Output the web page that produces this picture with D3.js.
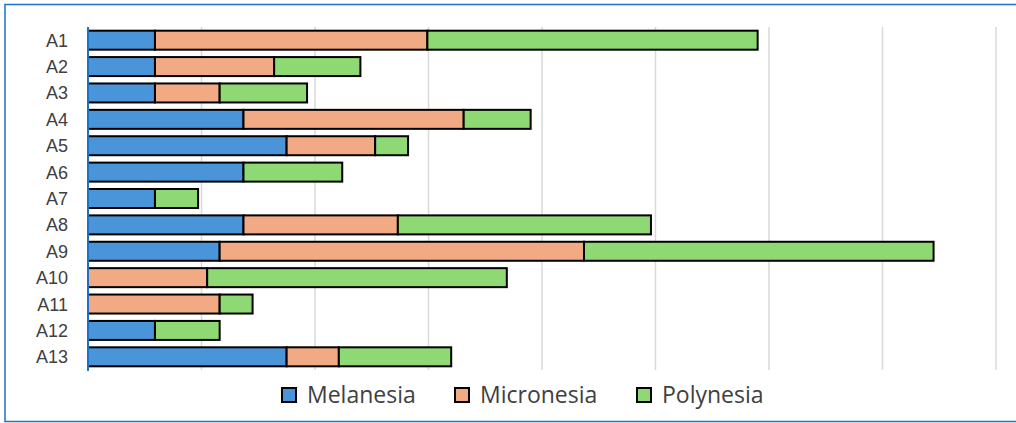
<!DOCTYPE html>
<html><head><meta charset="utf-8">
<script src="https://cdn.jsdelivr.net/npm/d3@7"></script>
<style>html,body{margin:0;padding:0;background:#fff;}svg{display:block;}</style>
</head><body>
<svg id="c" width="1016" height="423"></svg>
<script>
const categories = ["A1","A2","A3","A4","A5","A6","A7","A8","A9","A10","A11","A12","A13"];
const seriesNames = ["Melanesia","Micronesia","Polynesia"];
const melanesia  = [5.9, 5.9, 5.9, 13.7, 17.5, 13.7, 5.9, 13.7, 11.6, 0,    0,    5.9, 17.5];
const micronesia = [24.0,10.5, 5.7, 19.4,  7.8,  0,   0,   13.6, 32.1, 10.5, 11.6, 0,   4.6];
const polynesia  = [29.1, 7.6, 7.7,  5.9,  2.9,  8.7, 3.8, 22.3, 30.8, 26.4,  2.9, 5.7, 9.9];
const xTicks = [0,10,20,30,40,50,60,70,80];
const colors = ["#4A94DA","#F2AA84","#8ED973"];

(function(){
const svg = d3.select("#c");
svg.append("rect").attr("x",5).attr("y",4.5).attr("width",1030).attr("height",417)
  .attr("fill","none").attr("stroke","#1a72c9").attr("stroke-width",1.5);

const pL=88, pR=996, pT=27, pB=370;
const x = d3.scaleLinear().domain([0,80]).range([pL,pR]);
const y = d3.scaleBand().domain(categories).range([pT,pB]).paddingInner(0.28).paddingOuter(0.14);

svg.append("g").selectAll("line").data(xTicks.slice(1)).join("line")
  .attr("x1",d=>x(d)).attr("x2",d=>x(d)).attr("y1",pT).attr("y2",pB)
  .attr("stroke","#d9d9d9").attr("stroke-width",1.5);

const rows = categories.map((c,i)=>({cat:c, Melanesia:melanesia[i], Micronesia:micronesia[i], Polynesia:polynesia[i]}));
const stacked = d3.stack().keys(seriesNames)(rows);

svg.append("g").selectAll("g").data(stacked).join("g")
  .attr("fill",(d,i)=>colors[i])
  .selectAll("rect").data(d=>d.filter(s=>s[1]-s[0]>0)).join("rect")
  .attr("x",d=>x(d[0])).attr("width",d=>x(d[1])-x(d[0]))
  .attr("y",d=>y(d.data.cat)).attr("height",y.bandwidth())
  .attr("stroke","#000").attr("stroke-width",2);

svg.append("line").attr("x1",pL).attr("x2",pL).attr("y1",pT).attr("y2",pB+1)
  .attr("stroke","#1a72c9").attr("stroke-width",2);

const yAxis = d3.axisLeft(y).tickSize(0).tickPadding(0);
const ga = svg.append("g").attr("transform",`translate(${pL-20},0)`).call(yAxis);
ga.select(".domain").remove();
ga.selectAll("text").attr("font-family","Liberation Sans, Arial, sans-serif")
  .attr("font-size",18).attr("fill","#404040").attr("dy","0.36em");

const legX = [282, 455, 637];
const lg = svg.append("g");
seriesNames.forEach((n,i)=>{
  lg.append("rect").attr("x",legX[i]).attr("y",388).attr("width",14).attr("height",14)
    .attr("fill",colors[i]).attr("stroke","#000").attr("stroke-width",2);
  lg.append("text").attr("x",legX[i]+25).attr("y",403)
    .attr("font-family","Open Sans, sans-serif").attr("font-size",23).attr("fill","#404040")
    .text(n);
});
})();
</script>
</body></html>
